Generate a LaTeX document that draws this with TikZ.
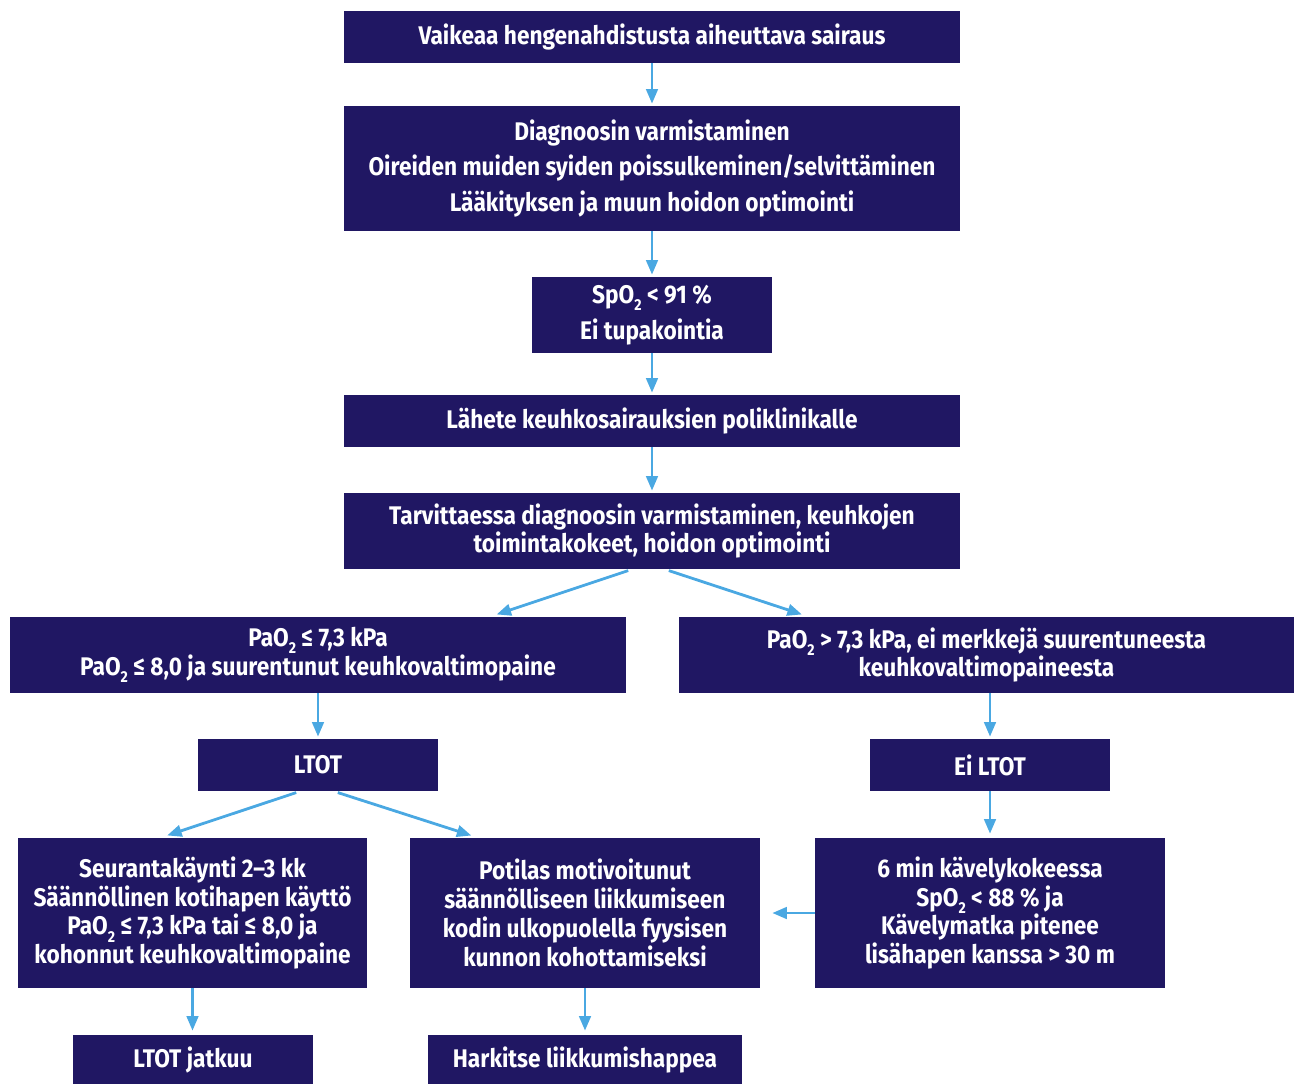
\documentclass[tikz,border=0pt]{standalone}
\usepackage{fontspec}
\setmainfont{Fira Sans}[FakeStretch=0.89]
\usetikzlibrary{arrows.meta}
\definecolor{navy}{HTML}{201763}
\definecolor{arrowblue}{HTML}{4AA8E2}
\newcommand\subtwo{\raisebox{-0.55ex}{\fontsize{9}{9}\selectfont 2}}

\begin{document}
\begin{tikzpicture}[x=0.02cm, y=-0.02cm,
  box/.style={fill=navy, text=white, align=center, inner sep=0pt,
    font=\bfseries\fontsize{14.5}{16.4}\selectfont},
  loose/.style={font=\bfseries\fontsize{14.5}{20.4}\selectfont},
  widebox/.style={box, minimum width=12.32cm},
  smallbox/.style={box, minimum width=4.8cm},
  textbox/.style={box, minimum width=7.0cm, minimum height=3.0cm},
  arr/.style={draw=arrowblue, line width=1.6pt, shorten >=0.04cm,
    -{Triangle[length=0.29cm, width=0.23cm]}},
  gap/.style={shorten <=0.08cm, shorten >=0.14cm}]

  % Fix the page to the size of the reference
  \useasboundingbox (0,0) rectangle (1301,1084);

  % Main column of boxes
  \node[widebox, minimum height=1.04cm] (cause) at (652,37)
    {Vaikeaa hengenahdistusta aiheuttava sairaus};
  \node[widebox, loose, minimum height=2.5cm] (diag) at (652,168.5)
    {Diagnoosin varmistaminen\\Oireiden muiden syiden poissulkeminen/selvittäminen\\Lääkityksen ja muun hoidon optimointi};
  \node[smallbox, loose, minimum height=1.52cm] (spo) at (652,315)
    {SpO\subtwo{} < 91 \%\\Ei tupakointia};
  \node[widebox, minimum height=1.04cm] (referral) at (652,421)
    {Lähete keuhkosairauksien poliklinikalle};
  \node[widebox, minimum height=1.52cm] (check) at (652,531)
    {Tarvittaessa diagnoosin varmistaminen, keuhkojen\\toimintakokeet, hoidon optimointi};

  % Split on the measured PaO2
  \node[widebox, minimum height=1.52cm] (lowpao) at (318,655)
    {PaO\subtwo{} ≤ 7,3 kPa\\PaO\subtwo{} ≤ 8,0 ja suurentunut keuhkovaltimopaine};
  \node[widebox, minimum height=1.52cm] (highpao) at (986.5,655)
    {PaO\subtwo{} > 7,3 kPa, ei merkkejä suurentuneesta\\keuhkovaltimopaineesta};
  \node[smallbox, minimum height=1.04cm] (ltot) at (318,765) {LTOT};
  \node[smallbox, minimum height=1.04cm] (noltot) at (990,765) {Ei LTOT};

  % Lower row
  \node[textbox] (followup) at (192.5,913)
    {Seurantakäynti 2–3 kk\\Säännöllinen kotihapen käyttö\\PaO\subtwo{} ≤ 7,3 kPa tai ≤ 8,0 ja\\kohonnut keuhkovaltimopaine};
  \node[textbox] (exercise) at (585,913)
    {Potilas motivoitunut\\säännölliseen liikkumiseen\\kodin ulkopuolella fyysisen\\kunnon kohottamiseksi};
  \node[textbox] (walktest) at (990,913)
    {6 min kävelykokeessa\\SpO\subtwo{} < 88 \% ja\\Kävelymatka pitenee\\lisähapen kanssa > 30 m};
  \node[smallbox, minimum height=0.98cm] (continue) at (193,1059.5) {LTOT jatkuu};
  \node[box, minimum width=6.28cm, minimum height=0.98cm] (ambox) at (585,1059.5)
    {Harkitse liikkumishappea};

  % Arrows down the main column
  \draw[arr] (cause) -- (diag);
  \draw[arr] (diag) -- (spo);
  \draw[arr] (spo) -- (referral);
  \draw[arr] (referral) -- (check);

  % Branch arrows
  \draw[arr, gap] ([xshift=-0.4cm]check.south) -- ([xshift=3.44cm]lowpao.north);
  \draw[arr, gap] ([xshift=0.26cm]check.south) -- ([xshift=-3.56cm]highpao.north);
  \draw[arr] (lowpao) -- (ltot);
  \draw[arr] (highpao.south -| noltot) -- (noltot.north);
  \draw[arr, gap] ([xshift=-0.36cm]ltot.south) -- ([xshift=-0.64cm]followup.north);
  \draw[arr, gap] ([xshift=0.32cm]ltot.south) -- ([xshift=-2.14cm]exercise.north);
  \draw[arr, shorten >=0.08cm] (noltot) -- (walktest);
  \draw[arr, shorten >=0.24cm] (walktest.west) -- (exercise.east);
  \draw[arr, shorten >=0.08cm] (followup.south) -- (followup.south |- continue.north);
  \draw[arr, shorten >=0.08cm] (exercise) -- (ambox);
\end{tikzpicture}
\end{document}
